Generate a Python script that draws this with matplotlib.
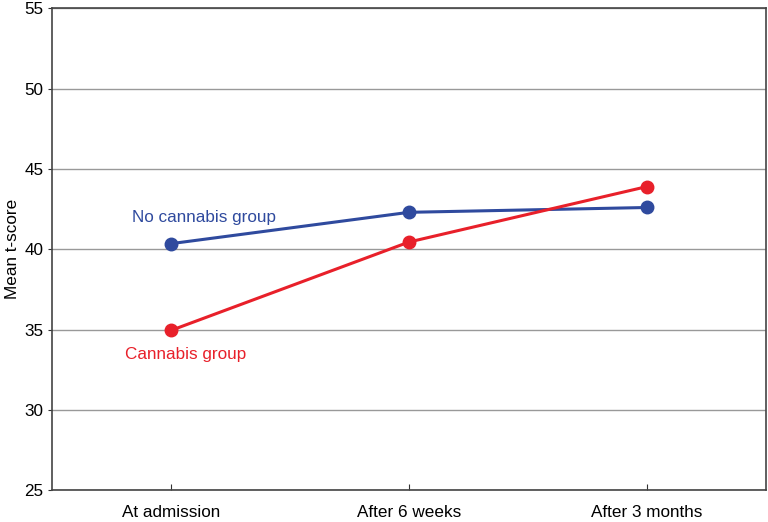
import matplotlib.pyplot as plt

plt.rcParams['font.family'] = ['Liberation Sans', 'DejaVu Sans']

categories = ['At admission', 'After 6 weeks', 'After 3 months']
no_cannabis = [40.35, 42.3, 42.6]
cannabis = [34.95, 40.45, 43.9]
yticks = [25, 30, 35, 40, 45, 50, 55]

blue = '#2f4a9e'
red = '#e8202a'

fig = plt.figure(figsize=(7.68, 5.22), dpi=100)
ax = fig.add_axes([0.068, 0.061, 0.929, 0.923])

x = range(len(categories))
ax.plot(x, no_cannabis, color=blue, lw=2.2, marker='o', ms=9, zorder=3)
ax.plot(x, cannabis, color=red, lw=2.2, marker='o', ms=9, zorder=3)

ax.text(0.14, 41.97, 'No cannabis group', color=blue, fontsize=12.3, ha='center', va='center')
ax.text(0.06, 33.44, 'Cannabis group', color=red, fontsize=12.3, ha='center', va='center')

ax.set_xlim(-0.5, 2.5)
ax.set_ylim(25, 55)
ax.set_xticks(list(x))
ax.set_xticklabels(categories)
ax.set_yticks(yticks)
ax.yaxis.grid(True, color='#999999', lw=1)
ax.set_axisbelow(True)
ax.tick_params(axis='x', direction='in', length=4, labelsize=12.3, pad=11, color='#333333')
ax.tick_params(axis='y', direction='out', length=3, labelsize=12.3, color='#333333')
for s in ax.spines.values():
    s.set_color('#444444')
    s.set_linewidth(1.2)
ax.set_ylabel('Mean t-score', fontsize=12.3, labelpad=3)

fig.savefig('out.png', dpi=100)
